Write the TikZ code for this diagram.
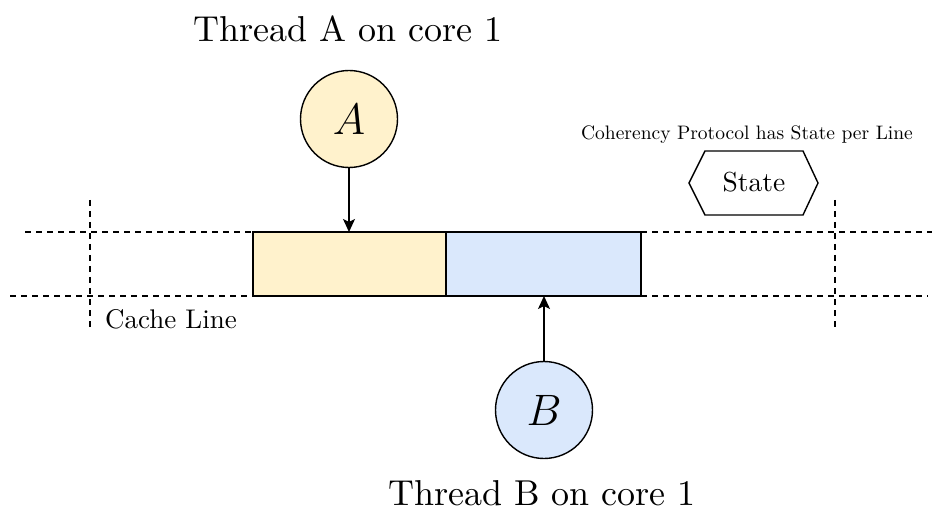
\RequirePackage{fix-cm}
\documentclass[tikz,border=0pt]{standalone}
\usepackage{fontspec}
\setmainfont{lmroman10-regular}[Extension=.otf,ItalicFont=lmroman10-italic]
\usetikzlibrary{arrows.meta}
\definecolor{softyellow}{HTML}{FFF2CC}
\definecolor{softblue}{HTML}{DAE8FC}
\begin{document}
\begin{tikzpicture}[x=1pt,y=-1pt,
  guide/.style={dash pattern=on 6pt off 5pt,line width=1.4pt},
  cellbox/.style={draw,line width=1.6pt},
  thread/.style={circle,draw,line width=1.4pt,minimum size=97pt,inner sep=0pt,font=\fontsize{44}{48}\selectfont},
  access/.style={line width=1.3pt,-{Stealth[length=13pt,width=12pt,inset=3pt]}},
  bigtext/.style={font=\fontsize{36}{40}\selectfont},
]
\useasboundingbox (0,0) rectangle (932,513);

% cache line guides
\draw[guide] (25,232) -- (253,232);
\draw[guide] (641,232) -- (932,232);
\draw[guide] (10,296) -- (253,296);
\draw[guide] (641,296) -- (928,296);
\draw[guide] (90,200) -- (90,330);
\draw[guide] (835,200) -- (835,330);

% the two halves of the line
\draw[cellbox,fill=softyellow] (253,232) rectangle (446,296);
\draw[cellbox,fill=softblue] (446,232) rectangle (641,296);
\coordinate (topA) at (349,232);
\coordinate (botB) at (544,296);

% threads
\node[thread,fill=softyellow] (A) at (349,119) {$A$};
\node[thread,fill=softblue] (B) at (544,410) {$B$};
\draw[access] (A) -- (topA);
\draw[access] (B) -- (botB);

\node[bigtext,anchor=base] (tA) at (348,42) {Thread A on core 1};
\node[bigtext,anchor=base] (tB) at (542,505) {Thread B on core 1};

\node[font=\fontsize{27}{30}\selectfont,anchor=base west,inner sep=0pt] (cl) at (105,328) {Cache Line};

% coherency state
\node[font=\fontsize{19.5}{22}\selectfont,anchor=base,inner sep=0pt] (coh) at (747,140) {Coherency Protocol has State per Line};
\draw[line width=1.4pt] (689,183) -- (705,151) -- (803,151) -- (818,183) -- (803,215) -- (705,215) -- cycle;
\node[font=\fontsize{27.5}{30}\selectfont,anchor=base] (st) at (754,192) {State};
\end{tikzpicture}
\end{document}
